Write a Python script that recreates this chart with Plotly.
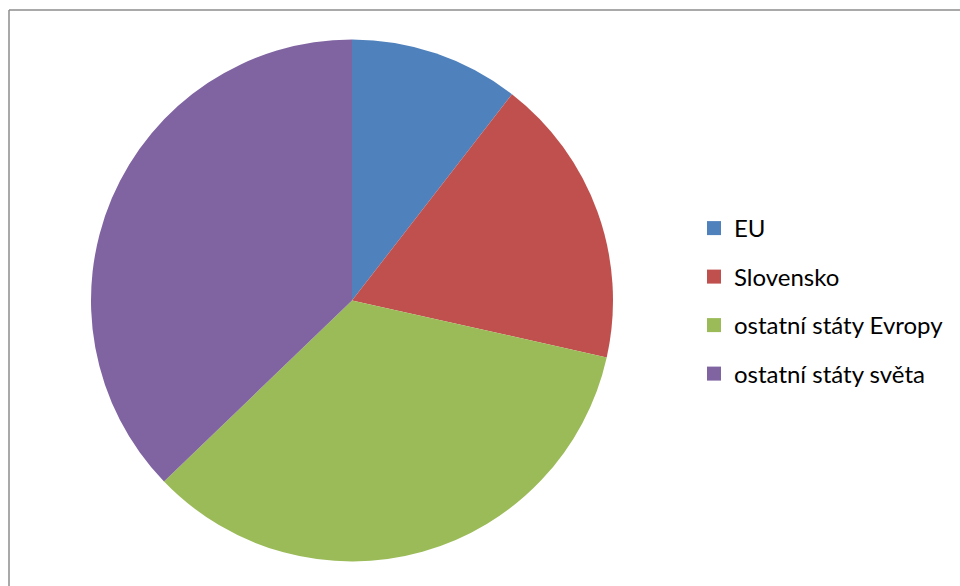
import plotly.graph_objects as go

labels = ["EU", "Slovensko", "ostatní státy Evropy", "ostatní státy světa"]
values = [10.5, 18.0, 34.3, 37.2]
colors = ["#4F81BD", "#C0504D", "#9BBB59", "#8064A2"]

W, H = 960, 586
cx, cy, r = 352, 300.5, 261

fig = go.Figure()
fig.add_trace(go.Pie(
    labels=labels, values=values, sort=False, direction="clockwise", rotation=0,
    marker=dict(colors=colors, line=dict(width=0)),
    textinfo="none", hoverinfo="label+percent", showlegend=False,
    domain=dict(x=[(cx - r) / W, (cx + r) / W], y=[(H - cy - r) / H, (H - cy + r) / H]),
))
# legend entries (square swatches)
for lab, col in zip(labels, colors):
    fig.add_trace(go.Scatter(
        x=[None], y=[None], mode="markers", name=lab, legendgroup=lab,
        marker=dict(symbol="square", size=14, color=col),
    ))

border = dict(color="#8C8C8C", width=1.5)
fig.update_layout(
    width=W, height=H, margin=dict(l=0, r=0, t=0, b=0),
    paper_bgcolor="white", plot_bgcolor="white",
    font=dict(family="Lato", size=24, color="#000000"),
    xaxis=dict(visible=False), yaxis=dict(visible=False),
    legend=dict(x=694 / W, y=1 - 206 / H, xanchor="left", yanchor="top",
                font=dict(size=24), itemwidth=30, tracegroupgap=14.3,
                traceorder="grouped", bgcolor="rgba(0,0,0,0)"),
    shapes=[
        dict(type="line", xref="paper", yref="paper", x0=9 / W, x1=9 / W,
             y0=0, y1=1 - 10 / H, line=border),
        dict(type="line", xref="paper", yref="paper", x0=9 / W, x1=1,
             y0=1 - 10 / H, y1=1 - 10 / H, line=border),
    ],
)

fig.write_html(
    "out.html",
    config={"displayModeBar": False},
    post_script="document.body.style.margin='0';document.body.style.overflow='hidden';",
)
